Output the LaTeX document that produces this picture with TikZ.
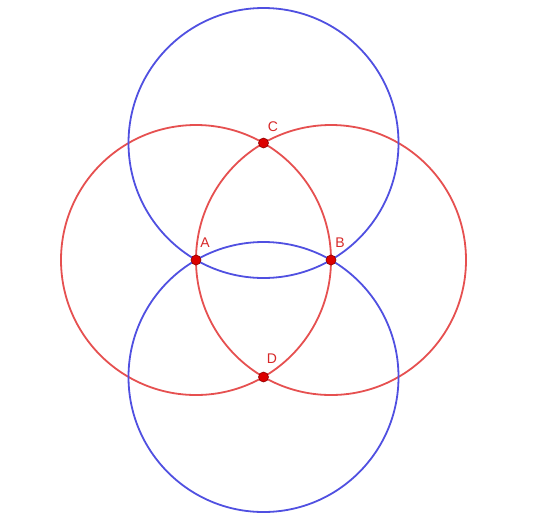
\documentclass[tikz,border=0pt]{standalone}
\usepackage{fontspec}
\setmainfont{Liberation Sans}
\begin{document}
\begin{tikzpicture}[x=1pt,y=-1pt,
  redc/.style={draw={rgb,255:red,230;green,80;blue,80},line width=1.8pt},
  bluec/.style={draw={rgb,255:red,80;green,80;blue,225},line width=1.8pt},
  pt/.style={circle,fill={rgb,255:red,220;green,0;blue,0},draw={rgb,255:red,140;green,0;blue,0},line width=0.6pt,inner sep=0pt,minimum size=10pt},
  lbl/.style={text={rgb,255:red,215;green,40;blue,40},font=\fontsize{14}{14}\selectfont,inner sep=0pt}]
\useasboundingbox[fill=white] (0,0) rectangle (546,528);
\coordinate (A) at (196,260);
\coordinate (B) at (331,260);
\coordinate (C) at (263.5,143);
\coordinate (D) at (263.5,377);
\draw[redc] (A) circle[radius=135];
\draw[redc] (B) circle[radius=135];
\draw[bluec] (C) circle[radius=135];
\draw[bluec] (D) circle[radius=135];
\node[pt] (pA) at (A) {};
\node[pt] (pB) at (B) {};
\node[pt] (pC) at (C) {};
\node[pt] (pD) at (D) {};
\node[lbl] (lA) at (205,243) {A};
\node[lbl] (lB) at (340,243) {B};
\node[lbl] (lC) at (273,127) {C};
\node[lbl] (lD) at (272,359) {D};
\end{tikzpicture}
\end{document}
